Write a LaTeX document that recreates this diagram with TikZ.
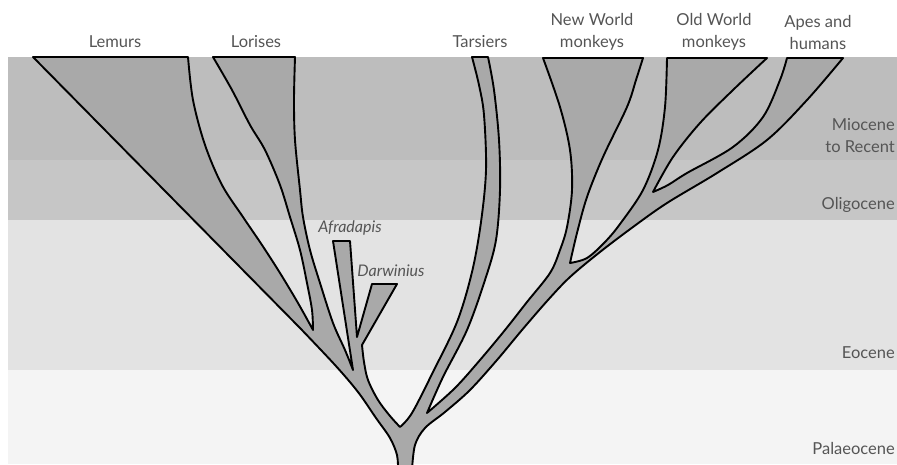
\documentclass[tikz,border=0pt]{standalone}
\usepackage{fontspec}
\setmainfont{Lato}
\definecolor{mio}{HTML}{BDBDBD}
\definecolor{oli}{HTML}{C6C6C6}
\definecolor{eoc}{HTML}{E3E3E3}
\definecolor{pal}{HTML}{F4F4F4}
\definecolor{branch}{HTML}{A9A9A9}
\definecolor{txt}{HTML}{555555}
\begin{document}
\begin{tikzpicture}[x=1pt,y=-1pt,
  lbl/.style={font=\fontsize{16.5}{22}\selectfont, text=txt, align=center, inner sep=0pt},
  era/.style={font=\fontsize{16.5}{22}\selectfont, text=txt, align=right, anchor=east, inner sep=0pt},
  taxon/.style={font=\fontsize{16}{22}\selectfont\itshape, text=txt, inner sep=0pt},
  tree/.style={fill=branch, draw=black, line width=1.9pt, line join=round},
  sm/.style={smooth, tension=0.55}]
\useasboundingbox (0,0) rectangle (897,464);
\clip (0,0) rectangle (897,464);
% time bands
\fill[mio] (8,57) rectangle (897,160);
\fill[oli] (8,160) rectangle (897,220);
\fill[eoc] (8,220) rectangle (897,370);
\fill[pal] (8,370) rectangle (897,464);
% tree outline
\draw[tree]
  plot[sm] coordinates {(398,470) (397,455) (390,438) (376,418) (358,392) (335,365) (300,328)}
  -- (33,57) -- (188,57)
  -- plot[sm] coordinates {(188,57) (193,100) (205,145) (222,185) (243,217) (262,245) (280,273) (298,303) (313,330)}
  -- plot[sm] coordinates {(313,330) (312,310) (307,283) (300,250) (290,217) (280,185) (265,150) (250,125) (232,90) (213,57)}
  -- (295,57)
  -- plot[sm] coordinates {(295,57) (294,100) (295,140) (300,190) (303,217) (310,250) (320,283) (333,323) (345,350) (353,370)}
  -- (333,241) -- (350,241) -- (357,337)
  -- (372,284) -- (397,284) -- (362,345)
  -- plot[sm] coordinates {(362,345) (364,362) (368,380) (378,400) (390,416) (400,427)}
  -- plot[sm] coordinates {(400,427) (412,413) (433,372) (457,322) (472,272) (481,222) (486,170) (484,115) (479,85) (472,57)}
  -- (488,57)
  -- plot[sm] coordinates {(488,57) (494,90) (499,140) (500,190) (496,240) (485,280) (467,330) (443,377) (427,413)}
  -- plot[sm] coordinates {(427,413) (455,388) (480,360) (505,330) (527,302) (550,273) (560,250) (567,227) (572,190) (570,150) (560,107) (543,58)}
  -- (643,58)
  -- plot[sm] coordinates {(643,58) (636,80) (627,107) (603,157) (587,197) (577,233) (570,263)}
  -- plot[sm] coordinates {(570,263) (587,258) (605,242) (620,224) (643,190) (658,150) (665,107) (667,58)}
  -- (767,58)
  -- plot[sm] coordinates {(767,58) (733,90) (700,123) (673,157) (653,192)}
  -- plot[sm] coordinates {(653,192) (668,185) (687,173) (733,147) (763,117) (780,80) (787,58)}
  -- (843,58)
  -- plot[sm] coordinates {(843,58) (807,100) (767,140) (717,173) (667,203) (633,227) (600,252) (570,277) (548,300) (522,330) (497,360) (470,390) (445,412) (425,428) (415,445) (412,470)}
  -- cycle;
% taxon labels
\node[lbl] (lemurs) at (115,42) {Lemurs};
\node[lbl] (lorises) at (256,42) {Lorises};
\node[lbl] (tarsiers) at (480,42) {Tarsiers};
\node[lbl] (nwm) at (592,32) {New World\\monkeys};
\node[lbl] (owm) at (714,32) {Old World\\monkeys};
\node[lbl] (apes) at (818,32) {Apes and\\humans};
\node[taxon] (afra) at (350,228) {Afradapis};
\node[taxon] (darw) at (391,271) {Darwinius};
% era labels
\node[era] (mioc) at (895,136) {Miocene\\to Recent};
\node[era] (olig) at (895,205) {Oligocene};
\node[era] (eoce) at (895,353) {Eocene};
\node[era] (pala) at (895,448) {Palaeocene};
\end{tikzpicture}
\end{document}
